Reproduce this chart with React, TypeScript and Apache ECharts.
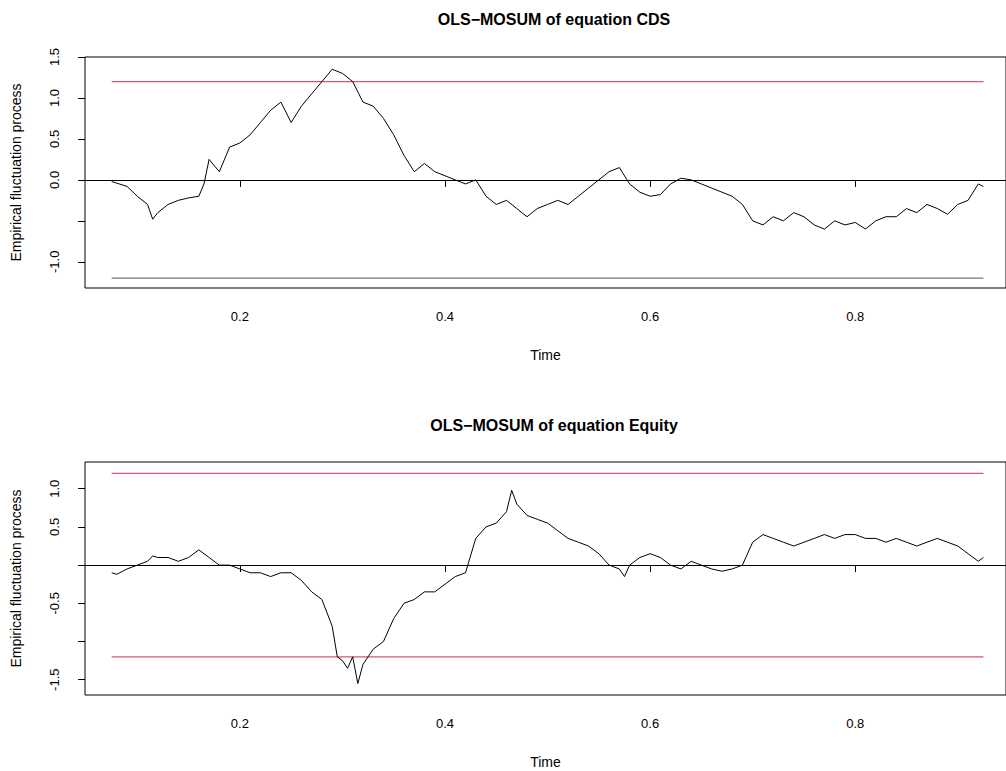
import { useEffect, useRef } from 'react'
import * as echarts from 'echarts'

const cdsX = [0.075,0.09,0.10,0.11,0.115,0.12,0.13,0.14,0.15,0.16,0.165,0.17,0.18,0.19,0.20,0.21,0.22,0.23,0.24,0.25,0.26,0.27,0.28,0.29,0.30,0.31,0.32,0.33,0.34,0.35,0.36,0.37,0.38,0.39,0.40,0.41,0.42,0.43,0.44,0.45,0.46,0.47,0.48,0.49,0.50,0.51,0.52,0.53,0.54,0.55,0.56,0.57,0.58,0.59,0.60,0.61,0.62,0.63,0.64,0.65,0.66,0.67,0.68,0.69,0.70,0.71,0.72,0.73,0.74,0.75,0.76,0.77,0.78,0.79,0.80,0.81,0.82,0.83,0.84,0.85,0.86,0.87,0.88,0.89,0.90,0.91,0.92,0.925]
const cdsY = [-0.02,-0.08,-0.2,-0.3,-0.48,-0.4,-0.3,-0.25,-0.22,-0.2,-0.05,0.25,0.1,0.4,0.45,0.55,0.7,0.85,0.95,0.7,0.9,1.05,1.2,1.35,1.3,1.2,0.95,0.9,0.75,0.55,0.3,0.1,0.2,0.1,0.05,0.0,-0.05,0.0,-0.2,-0.3,-0.25,-0.35,-0.45,-0.35,-0.3,-0.25,-0.3,-0.2,-0.1,0.0,0.1,0.15,-0.05,-0.15,-0.2,-0.18,-0.05,0.02,0.0,-0.05,-0.1,-0.15,-0.2,-0.3,-0.5,-0.55,-0.45,-0.5,-0.4,-0.45,-0.55,-0.6,-0.5,-0.55,-0.52,-0.6,-0.5,-0.45,-0.45,-0.35,-0.4,-0.3,-0.35,-0.42,-0.3,-0.25,-0.05,-0.08]
const eqX = [0.075,0.08,0.09,0.10,0.11,0.115,0.12,0.13,0.14,0.15,0.16,0.17,0.18,0.19,0.20,0.21,0.22,0.23,0.24,0.25,0.26,0.27,0.28,0.29,0.295,0.30,0.305,0.31,0.315,0.32,0.33,0.34,0.35,0.36,0.37,0.38,0.39,0.40,0.41,0.42,0.43,0.44,0.45,0.46,0.465,0.47,0.48,0.49,0.50,0.51,0.52,0.53,0.54,0.55,0.56,0.57,0.575,0.58,0.59,0.60,0.61,0.62,0.63,0.64,0.65,0.66,0.67,0.68,0.69,0.70,0.71,0.72,0.73,0.74,0.75,0.76,0.77,0.78,0.79,0.80,0.81,0.82,0.83,0.84,0.85,0.86,0.87,0.88,0.89,0.90,0.91,0.92,0.925]
const eqY = [-0.1,-0.12,-0.05,0.0,0.05,0.12,0.1,0.1,0.05,0.1,0.2,0.1,0.0,0.0,-0.05,-0.1,-0.1,-0.15,-0.1,-0.1,-0.2,-0.35,-0.45,-0.8,-1.2,-1.25,-1.35,-1.2,-1.55,-1.3,-1.1,-1.0,-0.7,-0.5,-0.45,-0.35,-0.35,-0.25,-0.15,-0.1,0.35,0.5,0.55,0.7,0.98,0.8,0.65,0.6,0.55,0.45,0.35,0.3,0.25,0.15,0.0,-0.05,-0.15,0.0,0.1,0.15,0.1,0.0,-0.05,0.05,0.0,-0.05,-0.08,-0.05,0.0,0.3,0.4,0.35,0.3,0.25,0.3,0.35,0.4,0.35,0.4,0.4,0.35,0.35,0.3,0.35,0.3,0.25,0.3,0.35,0.3,0.25,0.15,0.05,0.1]
const xTicks = [0.2, 0.4, 0.6, 0.8]
const cdsTicks = [-1, -0.5, 0, 0.5, 1, 1.5]
const cdsLabels = [-1, 0, 0.5, 1, 1.5]
const eqTicks = [-1.5, -1, -0.5, 0, 0.5, 1]
const eqLabels = [-1.5, -0.5, 0.5, 1]
const boundX = [0.075, 0.925]
const bound = 1.2

const font = 'Liberation Sans, Arial, sans-serif'
const red = '#DF536B'

export default function App() {
  const ref = useRef<HTMLDivElement>(null)

  useEffect(() => {
    if (!ref.current) return
    document.body.style.margin = '0'
    const chart = echarts.init(ref.current, null, { renderer: 'svg' })

    const xAxis = (gridIndex: number) => ({
      type: 'value', gridIndex, min: 0.049, max: 0.947,
      name: 'Time', nameLocation: 'middle', nameGap: 60,
      nameTextStyle: { fontSize: 14, color: '#000', fontFamily: font },
      splitLine: { show: false },
      axisLine: { show: false },
      axisTick: { customValues: xTicks, length: 7, lineStyle: { color: '#000' } },
      axisLabel: { customValues: xTicks, formatter: (v: number) => v.toFixed(1), fontSize: 13, color: '#000', fontFamily: font, margin: 22 }
    })
    const yAxis = (gridIndex: number, min: number, max: number, ticks: number[], labels: number[]) => ({
      type: 'value', gridIndex, min, max,
      name: 'Empirical fluctuation process', nameLocation: 'middle', nameGap: 62,
      nameTextStyle: { fontSize: 14, color: '#000', fontFamily: font },
      splitLine: { show: false },
      axisLine: { show: false },
      axisTick: { customValues: ticks, length: 7, lineStyle: { color: '#000' } },
      axisLabel: { customValues: labels, rotate: 90, formatter: (v: number) => v.toFixed(1), fontSize: 13, color: '#000', fontFamily: font, margin: 24 }
    })
    const flat = (i: number, y: number, color: string) => ({
      type: 'line', xAxisIndex: i, yAxisIndex: i, silent: true, clip: false,
      color,
      data: boundX.map(x => [x, y]),
      showSymbol: false,
      itemStyle: { color },
      lineStyle: { color, width: 1.2, opacity: 1 }
    })
    const series = (i: number, xs: number[], ys: number[]) => ({
      type: 'line', xAxisIndex: i, yAxisIndex: i,
      data: xs.map((x, k) => [x, ys[k]]),
      showSymbol: false, lineStyle: { color: '#000', width: 1 },
      markLine: {
        symbol: 'none', silent: true, label: { show: false },
        lineStyle: { color: '#000', width: 1, type: 'solid' },
        data: [{ yAxis: 0 }]
      }
    })

    chart.setOption({
      animation: false,
      title: [
        { text: 'OLS−MOSUM of equation CDS', left: 549, textAlign: 'center', top: 6, textStyle: { fontSize: 16, fontWeight: 'bold', fontFamily: font, color: '#000' } },
        { text: 'OLS−MOSUM of equation Equity', left: 549, textAlign: 'center', top: 412, textStyle: { fontSize: 16, fontWeight: 'bold', fontFamily: font, color: '#000' } }
      ],
      grid: [
        { left: 85, width: 930, top: 57, height: 231, show: true, borderColor: '#000', borderWidth: 1, backgroundColor: 'transparent' },
        { left: 85, width: 930, top: 462, height: 233, show: true, borderColor: '#000', borderWidth: 1, backgroundColor: 'transparent' }
      ],
      xAxis: [xAxis(0), xAxis(1)],
      yAxis: [
        yAxis(0, -1.32, 1.5, cdsTicks, cdsLabels),
        yAxis(1, -1.7, 1.35, eqTicks, eqLabels)
      ],
      series: [
        flat(0, bound, red),
        flat(0, -bound, '#777'),
        flat(1, bound, red),
        flat(1, -bound, red),
        series(0, cdsX, cdsY),
        series(1, eqX, eqY)
      ]
    })

    return () => chart.dispose()
  }, [])

  return <div ref={ref} style={{ width: '1006px', height: '771px', background: '#fff' }} />
}
